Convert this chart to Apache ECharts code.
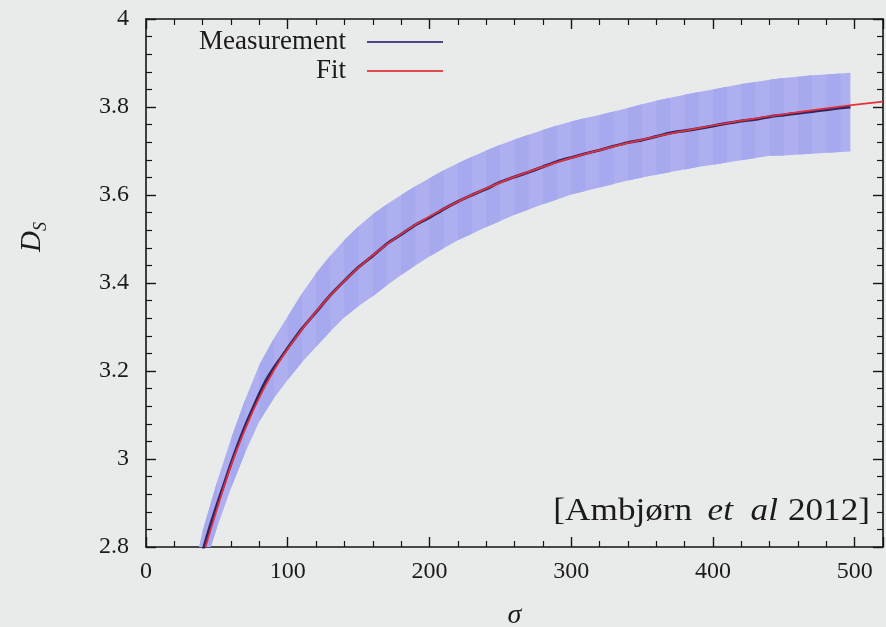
<!DOCTYPE html>
<html><head><meta charset="utf-8">
<script src="https://cdn.jsdelivr.net/npm/echarts/dist/echarts.min.js"></script>
<style>html,body{margin:0;padding:0;background:#e9ebea}#c{width:886px;height:627px}</style>
</head><body><div id="c"></div>
<script>
// ---- data ----
const xTickValues = [0, 100, 200, 300, 400, 500];
const yTickValues = [2.8, 3, 3.2, 3.4, 3.6, 3.8, 4];

const measSigma = [40,45,50,55,60,65,70,75,80,85,90,95,100,110,120,130,140,150,160,170,180,190,200,210,220,230,240,250,260,270,280,290,300,310,320,330,340,350,360,370,380,390,400,410,420,430,440,450,460,470,480,490,497];
const measValue = [2.79,2.845,2.895,2.942,2.99,3.034,3.075,3.112,3.148,3.18,3.206,3.229,3.252,3.296,3.334,3.372,3.405,3.436,3.462,3.489,3.51,3.532,3.549,3.568,3.585,3.6,3.614,3.629,3.641,3.652,3.664,3.676,3.685,3.694,3.702,3.711,3.719,3.725,3.733,3.741,3.746,3.751,3.757,3.763,3.768,3.772,3.778,3.782,3.786,3.79,3.794,3.798,3.8];

const fitSigma = [42,50,60,70,80,90,100,120,140,160,180,200,240,280,320,360,400,440,480,520];
const fitValue = [2.80,2.885,2.985,3.068,3.14,3.2,3.25,3.335,3.405,3.463,3.511,3.551,3.615,3.664,3.702,3.733,3.758,3.779,3.797,3.812];

const bandSigma = [37,40,50,60,70,80,90,100,110,120,130,140,150,160,170,180,190,200,210,220,230,240,250,260,270,280,290,300,310,320,330,340,350,360,370,380,390,400,410,420,430,440,450,460,470,480,490,497];
const bandLow  = [2.705,2.743,2.843,2.934,3.015,3.086,3.137,3.18,3.22,3.255,3.29,3.322,3.348,3.37,3.395,3.418,3.44,3.46,3.479,3.497,3.512,3.527,3.541,3.555,3.567,3.579,3.59,3.601,3.609,3.617,3.625,3.633,3.64,3.646,3.652,3.658,3.664,3.669,3.674,3.679,3.684,3.689,3.69,3.692,3.694,3.696,3.698,3.699];
const bandHigh = [2.795,2.837,2.947,3.046,3.135,3.214,3.273,3.324,3.376,3.422,3.462,3.498,3.529,3.556,3.579,3.6,3.62,3.638,3.656,3.672,3.687,3.701,3.714,3.726,3.737,3.748,3.758,3.767,3.775,3.782,3.79,3.798,3.806,3.814,3.821,3.828,3.834,3.84,3.846,3.852,3.857,3.862,3.866,3.869,3.872,3.874,3.876,3.878];

const seriesNames = ['Measurement', 'Fit'];
const annotationText = ['[Ambjørn', 'et', 'al', '2012]'];

// ---- chart ----
const chart = echarts.init(document.getElementById('c'));
const serif = '"Liberation Serif", "Times New Roman", serif';
const txt = '#1b1b1b';

function frameAxis(pos, isX, showLabel) {
  return {
    type: 'value',
    position: pos,
    min: isX ? 0 : 2.8,
    max: isX ? 520 : 4,
    interval: isX ? 100 : 0.2,
    axisLine: { show: true, onZero: false, lineStyle: { color: '#151515', width: 1.6 } },
    axisTick: { show: true, inside: true, length: 10, lineStyle: { color: '#151515', width: 1.4 } },
    minorTick: { show: true, splitNumber: 5, length: 6, lineStyle: { color: '#151515', width: 1.2 } },
    splitLine: { show: false },
    minorSplitLine: { show: false },
    axisLabel: {
      show: showLabel,
      color: txt,
      fontFamily: serif,
      fontSize: 24,
      margin: isX ? 13 : 17,
      formatter: function (v) {
        if (isX) return xTickValues.indexOf(v) >= 0 ? String(v) : '';
        return yTickValues.some(t => Math.abs(t - v) < 1e-9) ? String(+v.toFixed(1)) : '';
      }
    }
  };
}

const xBottom = frameAxis('bottom', true, true);
xBottom.name = 'σ';
xBottom.nameLocation = 'middle';
xBottom.nameGap = 55;
xBottom.nameTextStyle = { fontFamily: serif, fontStyle: 'italic', fontSize: 28, color: txt };

const yLeft = frameAxis('left', false, true);
yLeft.name = '{d|D}{s|S}';
yLeft.nameLocation = 'middle';
yLeft.nameRotate = 90;
yLeft.nameGap = 97;
yLeft.nameTextStyle = {
  color: txt,
  padding: [0, 0, 0, 92],
  rich: {
    d: { fontFamily: serif, fontStyle: 'italic', fontSize: 29, color: txt, verticalAlign: 'top', lineHeight: 31 },
    s: { fontFamily: serif, fontStyle: 'italic', fontSize: 18, color: txt, verticalAlign: 'top', lineHeight: 18, padding: [14, 0, 0, 0] }
  }
};

const option = {
  backgroundColor: '#e9ebea',
  animation: false,
  grid: { left: 146, right: 3, top: 19, bottom: 80, containLabel: false, outerBoundsMode: 'none' },
  xAxis: [xBottom, frameAxis('top', true, false)],
  yAxis: [yLeft, frameAxis('right', false, false)],
  legend: {
    data: [{ name: seriesNames[0], icon: 'rect' }, { name: seriesNames[1], icon: 'rect' }],
    orient: 'vertical',
    align: 'right',
    right: 443,
    top: 28,
    padding: 0,
    itemGap: 1,
    itemWidth: 76,
    itemHeight: 2,
    textStyle: { fontFamily: serif, fontSize: 27, color: txt, lineHeight: 28, padding: [0, 16, 0, 0] }
  },
  series: [
    {
      name: 'band',
      type: 'custom',
      xAxisIndex: 0, yAxisIndex: 0,
      silent: true,
      data: [[bandSigma[0], bandLow[0]]],
      encode: { x: 0, y: 1 },
      z: 1,
      renderItem: function (params, api) {
        const up = bandSigma.map((s, i) => api.coord([s, bandHigh[i]]));
        const lo = bandSigma.map((s, i) => api.coord([s, bandLow[i]]));
        const cs = params.coordSys;
        const children = [{
          type: 'polygon',
          shape: { points: up.concat(lo.slice().reverse()) },
          style: { fill: '#adaff0' }
        }];
        for (let i = 1; i < bandSigma.length - 1; i += 2) {
          children.push({
            type: 'polygon',
            shape: { points: [up[i], up[i + 1], lo[i + 1], lo[i]] },
            style: { fill: '#a7a9ee' }
          });
        }
        return {
          type: 'group',
          children: children,
          clipPath: { type: 'rect', shape: { x: cs.x, y: cs.y, width: cs.width, height: cs.height } }
        };
      }
    },
    {
      name: seriesNames[0],
      type: 'line',
      data: measSigma.map((s, i) => [s, measValue[i]]),
      showSymbol: false,
      symbol: 'none',
      smooth: 0.2,
      clip: true,
      color: '#4a4888',
      lineStyle: { color: '#2c2760', width: 3 },
      z: 3
    },
    {
      name: seriesNames[1],
      type: 'line',
      data: fitSigma.map((s, i) => [s, fitValue[i]]),
      showSymbol: false,
      symbol: 'none',
      smooth: true,
      clip: true,
      color: '#e04a50',
      lineStyle: { color: '#e5303c', width: 1.7 },
      z: 4
    }
  ],
  graphic: [
    {
      type: 'text',
      right: 16,
      top: 496,
      scaleX: 1.1,
      style: {
        text: '{a|' + annotationText[0] + '}{b|' + annotationText[1] + '}{c|' + annotationText[2] + '}{d|' + annotationText[3] + '}',
        fill: txt,
        rich: {
          a: { fontFamily: serif, fontSize: 32, color: txt, padding: [0, 14, 0, 0] },
          b: { fontFamily: serif, fontStyle: 'italic', fontSize: 32, color: txt, padding: [0, 16, 0, 0] },
          c: { fontFamily: serif, fontStyle: 'italic', fontSize: 32, color: txt, padding: [0, 9, 0, 0] },
          d: { fontFamily: serif, fontSize: 32, color: txt }
        }
      }
    }
  ]
};
chart.setOption(option);
</script>
</body></html>
